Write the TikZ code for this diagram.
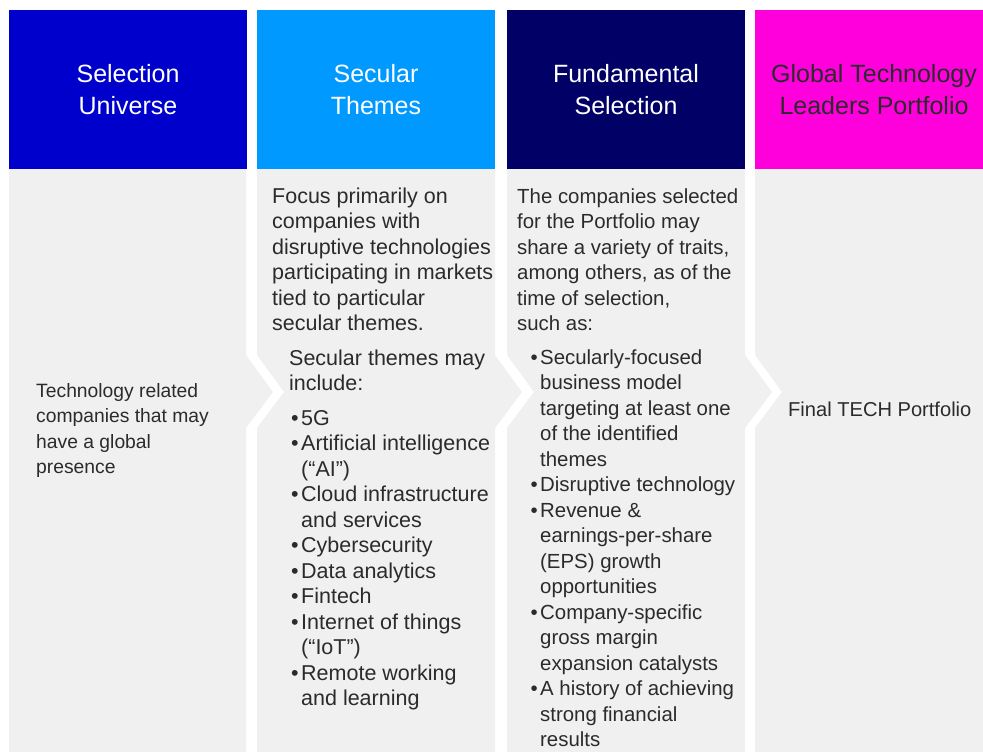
\documentclass[tikz,border=0pt]{standalone}
\usepackage{fontspec}
\setmainfont{Liberation Sans}
\definecolor{univblue}{HTML}{0000CC}
\definecolor{themeblue}{HTML}{0099FF}
\definecolor{fundnavy}{HTML}{000066}
\definecolor{leadmagenta}{HTML}{FF00DD}
\definecolor{panelgrey}{HTML}{F0F0F0}
\definecolor{bodytext}{HTML}{2B2B2B}
\newcommand{\tbul}{\llap{\textbullet\hspace{2.5pt}}}

\begin{document}
\begin{tikzpicture}[x=1pt, y=-1pt,
    head/.style={minimum width=238pt, minimum height=159pt, inner sep=0pt,
      align=center, text=white, font=\fontsize{25}{32}\selectfont},
    body/.style={anchor=base west, inner sep=0pt, align=left, text=bodytext},
    panel/.style={fill=panelgrey}
  ]
  \useasboundingbox (0,0) rectangle (983,752);

  % grey panels with chevrons
  \fill[panel] (9,169) -- (246,169) -- (246,355) -- (273,392) -- (246,428)
    -- (246,752) -- (9,752) -- cycle;
  \foreach \l/\r in {257/495, 507/745}
    \fill[panel] (\l,169) -- (\r,169) -- (\r,355) -- ({\r+27},392) -- (\r,428)
      -- (\r,752) -- (\l,752) -- (\l,428) -- ({\l+27},392) -- (\l,355) -- cycle;
  \fill[panel] (755,169) -- (993,169) -- (993,752) -- (755,752) -- (755,428)
    -- (782,392) -- (755,355) -- cycle;

  % headers
  \node[head, fill=univblue] (hdUniverse) at (128,89.5) {Selection\\Universe};
  \node[head, fill=themeblue] (hdThemes) at (376,89.5) {Secular\\Themes};
  \node[head, fill=fundnavy] (hdFundamental) at (626,89.5) {Fundamental\\Selection};
  \node[head, fill=leadmagenta, text=bodytext] (hdPortfolio) at (874,89.5)
    {Global Technology\\Leaders Portfolio};

  % column texts (placed at the baseline of their last line)
  \node[body, font=\fontsize{19.3}{25.5}\selectfont] (txtUniverse) at (36,473.5)
    {Technology related\\companies that may\\have a global\\presence};

  \node[body, font=\fontsize{21.5}{25.5}\selectfont] (txtThemes) at (272,330.5)
    {Focus primarily on\\companies with\\disruptive technologies\\participating in markets\\tied to particular\\secular themes.};
  \node[body, font=\fontsize{21.5}{25.5}\selectfont] (txtMayInclude) at (289,390.5)
    {Secular themes may\\include:};
  \node[body, font=\fontsize{21.5}{25.5}\selectfont] (lstThemes) at (301,705.5)
    {\tbul 5G\\
     \tbul Artificial intelligence\\(“AI”)\\
     \tbul Cloud infrastructure\\and services\\
     \tbul Cybersecurity\\
     \tbul Data analytics\\
     \tbul Fintech\\
     \tbul Internet of things\\(“IoT”)\\
     \tbul Remote working\\and learning};

  \node[body, font=\fontsize{20.4}{25.5}\selectfont] (txtFundamental) at (517,330.5)
    {The companies selected\\for the Portfolio may\\share a variety of traits,\\among others, as of the\\time of selection,\\such as:};
  \node[body, font=\fontsize{20.4}{25.5}\selectfont] (lstTraits) at (540,746.5)
    {\tbul Secularly-focused\\business model\\targeting at least one\\of the identified\\themes\\
     \tbul Disruptive technology\\
     \tbul Revenue \&\\earnings-per-share\\(EPS) growth\\opportunities\\
     \tbul Company-specific\\gross margin\\expansion catalysts\\
     \tbul A history of achieving\\strong financial\\results};

  \node[body, font=\fontsize{20.1}{25.5}\selectfont] (txtPortfolio) at (788,416)
    {Final TECH Portfolio};
\end{tikzpicture}
\end{document}
